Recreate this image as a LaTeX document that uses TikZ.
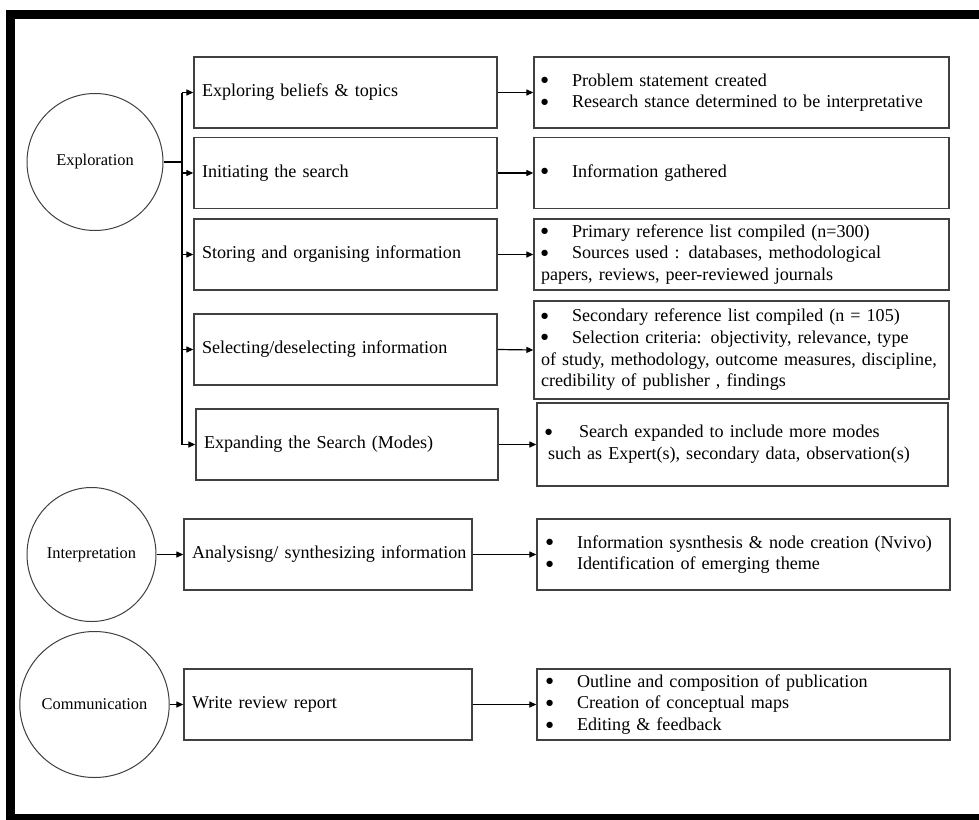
\documentclass[tikz,border=0pt]{standalone}
\usepackage{fontspec}
\setmainfont{Liberation Serif}
\newfontfamily\dotfont{DejaVu Sans}
\usetikzlibrary{arrows.meta,shapes.geometric}
% bullet with a fixed-width slot before the item text
\newcommand{\bul}[1][31pt]{\makebox[#1][l]{\raisebox{3.6pt}{\dotfont\fontsize{8.2pt}{8pt}\selectfont ●}}}

\begin{document}
\begin{tikzpicture}[x=1pt,y=-1pt,
  every node/.style={font=\fontsize{18.1pt}{21.7pt}\selectfont},
  phase/.style={draw=black!75, line width=1pt, ellipse, inner sep=0pt,
    font=\fontsize{16.4pt}{19pt}\selectfont},
  stepbox/.style={draw=black!75, line width=1.3pt, rectangle,
    inner xsep=8pt, inner ysep=0pt, minimum height=71pt, align=left},
  outbox/.style={draw=black!75, line width=1.3pt, rectangle,
    inner ysep=0pt, minimum height=71pt, align=left},
  link/.style={line width=1.2pt, -{Triangle[length=7pt,width=6pt]}},
  trunk/.style={line width=1.2pt}]

\useasboundingbox (0,0) rectangle (979,819);
\fill[white] (0,0) rectangle (979,819);

% outer frame (open on the right)
\begin{scope}
  \clip (0,0) rectangle (979,819);
  \draw[line width=9pt] (1000,14) -- (10,14) -- (10,818) -- (1000,818);
\end{scope}

% phases
\node[phase, minimum width=136pt, minimum height=137pt] (expl) at (95,162) {Exploration};
\node[phase, minimum width=129pt, minimum height=134pt] (interp) at (91.5,554.5) {Interpretation};
\node[phase, minimum width=139pt, minimum height=146pt] (comm) at (94.5,704.5) {Communication};

% steps
\node[stepbox, text width=287pt] (b1) at (345.5,92.5) {\mbox{Exploring beliefs \& topics}};
\node[stepbox, text width=287pt] (b2) at (345.5,173) {\mbox{Initiating the search}};
\node[stepbox, text width=287pt] (b3) at (345.5,254.5) {\mbox{Storing and organising information}};
\node[stepbox, text width=287pt] (b4) at (345.5,349.5) {\mbox{Selecting/deselecting information}};
\node[stepbox, text width=286pt] (b5) at (347,444.5) {\mbox{Expanding the Search (Modes)}};
\node[stepbox, text width=272pt] (a1) at (328,554.5) {\mbox{Analysisng/ synthesizing information}};
\node[stepbox, text width=272pt] (a2) at (328,704.5) {\mbox{Write review report}};

% outcomes
\node[outbox, inner xsep=7pt, text width=401pt] (r1) at (741.5,92.5)
  {\mbox{\bul Problem statement created}\\
   \mbox{\bul Research stance determined to be interpretative}};
\node[outbox, inner xsep=7pt, text width=401pt] (r2) at (741.5,173)
  {\mbox{\bul Information gathered}};
\node[outbox, inner xsep=7pt, text width=401pt] (r3) at (741.5,254.5)
  {\mbox{\bul Primary reference list compiled (n=300)}\\
   \mbox{\bul Sources used : databases, methodological}\\
   \mbox{papers, reviews, peer-reviewed journals}};
\node[outbox, inner xsep=7pt, text width=401pt, minimum height=98pt] (r4) at (741.5,350)
  {\mbox{\bul Secondary reference list compiled (n = 105)}\\
   \mbox{\bul Selection criteria: objectivity, relevance, type}\\
   \mbox{of study, methodology, outcome measures, discipline,}\\
   \mbox{credibility of publisher , findings}};
\node[outbox, inner xsep=8pt, text width=395pt, minimum height=83pt] (r5) at (742.5,444.5)
  {\mbox{\bul[28pt] Search expanded to include more modes}\\
   \mbox{\hspace*{3pt}such as Expert(s), secondary data, observation(s)}};
\node[outbox, inner xsep=9pt, text width=395pt] (r6) at (743.5,554.5)
  {\mbox{\bul Information sysnthesis \& node creation (Nvivo)}\\
   \mbox{\bul Identification of emerging theme}};
\node[outbox, inner xsep=9pt, text width=395pt] (r7) at (743.5,704.5)
  {\mbox{\bul Outline and composition of publication}\\
   \mbox{\bul Creation of conceptual maps}\\
   \mbox{\bul Editing \& feedback}};

% branching trunk from Exploration
\coordinate (t1) at (182,92.5);
\coordinate (t2) at (182,173);
\coordinate (t3) at (182,254.5);
\coordinate (t4) at (182,349.5);
\coordinate (t5) at (182,444.5);
\draw[trunk] (expl.east) -- (expl.east -| t1);
\draw[trunk] (t1) -- (t5);
\foreach \i in {1,...,5} {
  \draw[link] (t\i) -- (b\i.west);
  \draw[link] (b\i.east) -- (r\i.west);
}

% interpretation and communication rows
\draw[link] (interp.east) -- (a1.west);
\draw[link] (a1.east) -- (r6.west);
\draw[link] (comm.east) -- (a2.west);
\draw[link] (a2.east) -- (r7.west);
\end{tikzpicture}
\end{document}
